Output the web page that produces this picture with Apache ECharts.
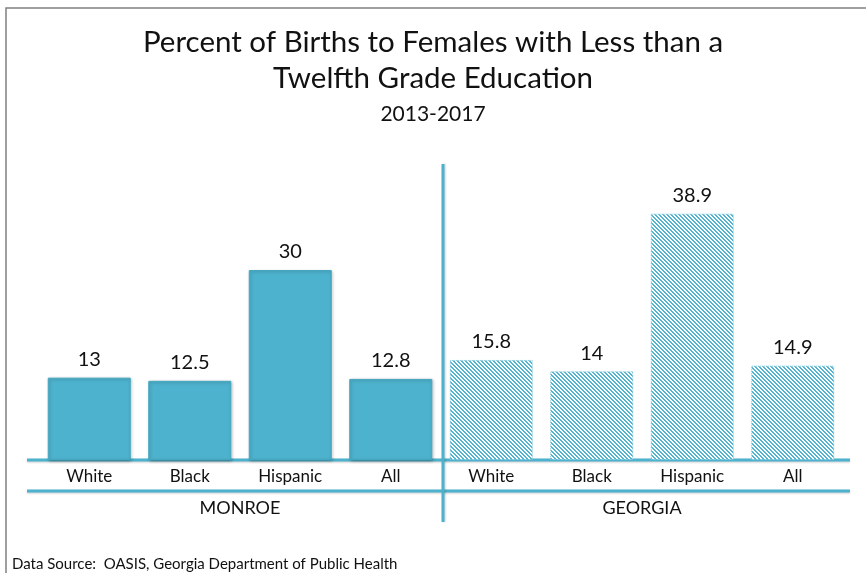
<!DOCTYPE html>
<html>
<head>
<meta charset="utf-8">
<script src="https://cdn.jsdelivr.net/npm/echarts@6/dist/echarts.min.js"></script>
<style>html,body{margin:0;padding:0;background:#fff;}#c{width:866px;height:573px;}</style>
</head>
<body>
<div id="c"></div>
<script>
var categories = ['White', 'Black', 'Hispanic', 'All', 'White', 'Black', 'Hispanic', 'All'];
var groups = ['MONROE', 'GEORGIA'];
var monroeValues = [13, 12.5, 30, 12.8];
var georgiaValues = [15.8, 14, 38.9, 14.9];

var FONT = 'Lato';
var BLUE = '#4db2cd';

// hatch pattern tile
var tile = document.createElement('canvas');
tile.width = 4; tile.height = 4;
var tctx = tile.getContext('2d');
tctx.fillStyle = '#ffffff'; tctx.fillRect(0, 0, 4, 4);
tctx.fillStyle = '#52b4cf';
for (var x = 0; x < 4; x++) {
  for (var y = 0; y < 4; y++) {
    var d = ((x - y) % 4 + 4) % 4;
    if (d === 0 || d === 1) tctx.fillRect(x, y, 1, 1);
  }
}

var barData = [];
monroeValues.forEach(function (v) {
  barData.push({ value: v, itemStyle: { color: BLUE, borderColor: '#45a6c0', borderWidth: 1, shadowColor: 'rgba(0,0,0,0.25)', shadowBlur: 3, shadowOffsetX: 1, shadowOffsetY: 1 } });
});
georgiaValues.forEach(function (v) {
  barData.push({ value: v, itemStyle: { color: { image: tile, repeat: 'repeat' }, borderColor: '#7fc4d8', borderWidth: 1, borderType: 'dotted' } });
});

var chart = echarts.init(document.getElementById('c'), null, { renderer: 'canvas' });
chart.setOption({
  backgroundColor: '#ffffff',
  animation: false,
  title: {
    text: 'Percent of Births to Females with Less than a\nTwelfth Grade Education',
    subtext: '2013-2017',
    left: 'center',
    top: 19,
    itemGap: 6,
    textStyle: { fontFamily: FONT, fontSize: 29.5, fontWeight: 'normal', color: '#111', lineHeight: 36 },
    subtextStyle: { fontFamily: FONT, fontSize: 21, color: '#111', lineHeight: 24 }
  },
  grid: { left: 39, right: 23, top: 175, bottom: 113 },
  xAxis: [{
    type: 'category',
    data: categories,
    axisLine: { show: false },
    axisTick: { show: false },
    axisLabel: { fontFamily: FONT, fontSize: 17, color: '#111', margin: 8 }
  }, {
    type: 'category',
    data: groups,
    position: 'bottom',
    offset: 31,
    axisLine: { show: false },
    axisTick: { show: false },
    axisLabel: { fontFamily: FONT, fontSize: 18, color: '#111', margin: 8 }
  }],
  yAxis: { type: 'value', min: 0, max: 45, show: false, splitLine: { show: false } },
  series: [{
    type: 'bar',
    data: barData,
    barWidth: 83,
    label: { show: true, position: 'top', distance: 8, fontFamily: FONT, fontSize: 20, color: '#111' }
  }],
  graphic: [
    { type: 'polyline', shape: { points: [[6, 573], [6, 8], [866, 8]] }, style: { stroke: '#808080', lineWidth: 1.5, fill: null } },
    { type: 'line', shape: { x1: 27, y1: 460, x2: 850, y2: 460 }, style: { stroke: BLUE, lineWidth: 3, shadowColor: 'rgba(0,0,0,0.2)', shadowBlur: 2, shadowOffsetY: 1 } },
    { type: 'line', shape: { x1: 27, y1: 491, x2: 850, y2: 491 }, style: { stroke: BLUE, lineWidth: 3, shadowColor: 'rgba(0,0,0,0.2)', shadowBlur: 2, shadowOffsetY: 1 } },
    { type: 'line', shape: { x1: 443, y1: 164, x2: 443, y2: 522 }, style: { stroke: BLUE, lineWidth: 3, shadowColor: 'rgba(0,0,0,0.2)', shadowBlur: 2, shadowOffsetX: 1 } },
    { type: 'text', left: 12, top: 557, style: { text: 'Data Source:  OASIS, Georgia Department of Public Health', fontFamily: FONT, fontSize: 15, fill: '#111' } }
  ]
});
</script>
</body>
</html>
